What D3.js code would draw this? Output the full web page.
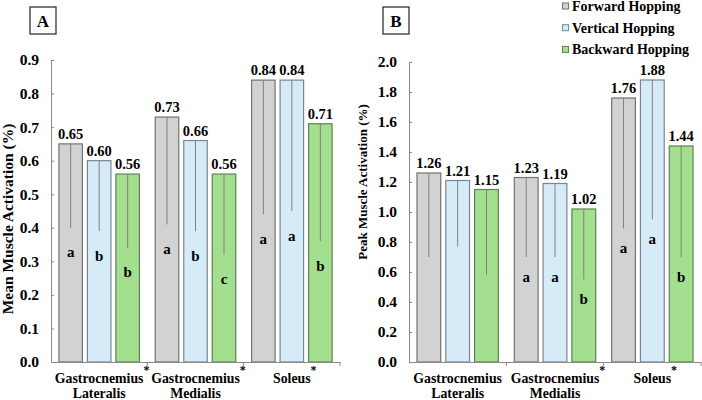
<!DOCTYPE html>
<html>
<head>
<meta charset="utf-8">
<script src="https://cdn.jsdelivr.net/npm/d3@7"></script>
<style>
  body { margin: 0; background: #fff; }
  svg text { font-family: "Liberation Serif", "Times New Roman", serif; font-weight: bold; fill: #000; }
</style>
</head>
<body>
<script>
var W = 702, H = 400;

// categories and series
var muscles = ["Gastrocnemius Lateralis", "Gastrocnemius Medialis", "Soleus"];
var conditions = ["Forward Hopping", "Vertical Hopping", "Backward Hopping"];
var fills = ["#d2d2d2", "#d6ebf8", "#a3df8f"];
var strokes = ["#727272", "#7a8692", "#5a8454"];

// panel A: mean activation
var meanForward = [0.65, 0.73, 0.84];
var meanVertical = [0.60, 0.66, 0.84];
var meanBackward = [0.56, 0.56, 0.71];
var meanSdForward = [0.25, 0.32, 0.40];
var meanSdVertical = [0.21, 0.27, 0.39];
var meanSdBackward = [0.22, 0.24, 0.35];
var meanLetters = [["a", "a", "a"], ["b", "b", "a"], ["b", "c", "b"]];
var meanStars = [true, true, true];
var meanTicks = [0, 0.1, 0.2, 0.3, 0.4, 0.5, 0.6, 0.7, 0.8, 0.9];

// panel B: peak activation
var peakForward = [1.26, 1.23, 1.76];
var peakVertical = [1.21, 1.19, 1.88];
var peakBackward = [1.15, 1.02, 1.44];
var peakSdForward = [0.56, 0.53, 0.87];
var peakSdVertical = [0.44, 0.49, 0.93];
var peakSdBackward = [0.57, 0.47, 0.74];
var peakLetters = [["", "a", "a"], ["", "a", "a"], ["", "b", "b"]];
var peakStars = [false, true, true];
var peakTicks = [0, 0.2, 0.4, 0.6, 0.8, 1.0, 1.2, 1.4, 1.6, 1.8, 2.0];

var svg = d3.select("body").append("svg")
  .attr("width", W)
  .attr("height", H);

function drawPanel(p) {
  var g = svg.append("g");
  var y = d3.scaleLinear().domain([0, p.max]).range([362, p.top]);
  var x0 = d3.scaleBand().domain(muscles).range([p.left, p.right]);
  var x1 = d3.scaleBand().domain(conditions).range([0, x0.bandwidth()])
    .paddingInner(0.14).paddingOuter(0.26);

  // bars
  conditions.forEach(function(c, si) {
    var vals = p.values[si];
    g.selectAll(".bar" + si).data(vals).enter().append("rect")
      .attr("x", function(d, i) { return x0(muscles[i]) + x1(c) + 0.5; })
      .attr("y", function(d) { return y(d); })
      .attr("width", x1.bandwidth() - 1)
      .attr("height", function(d) { return y(0) - y(d); })
      .attr("fill", fills[si])
      .attr("stroke", strokes[si])
      .attr("stroke-width", 1.2);

    // error line (lower side only)
    g.selectAll(".err" + si).data(vals).enter().append("line")
      .attr("x1", function(d, i) { return x0(muscles[i]) + x1(c) + x1.bandwidth() / 2; })
      .attr("x2", function(d, i) { return x0(muscles[i]) + x1(c) + x1.bandwidth() / 2; })
      .attr("y1", function(d) { return y(d); })
      .attr("y2", function(d, i) { return y(d - p.sd[si][i]); })
      .attr("stroke", "#808080")
      .attr("stroke-width", 1);

    // value labels
    g.selectAll(".val" + si).data(vals).enter().append("text")
      .attr("x", function(d, i) { return x0(muscles[i]) + x1(c) + x1.bandwidth() / 2; })
      .attr("y", function(d) { return y(d) - 5; })
      .attr("text-anchor", "middle")
      .attr("font-size", "14.5px")
      .text(function(d) { return d.toFixed(2); });

    // significance letters
    g.selectAll(".let" + si).data(vals).enter().append("text")
      .attr("x", function(d, i) { return x0(muscles[i]) + x1(c) + x1.bandwidth() / 2; })
      .attr("y", function(d, i) { return y(d - p.sd[si][i]) + p.letterGap; })
      .attr("dy", "0.3em")
      .attr("text-anchor", "middle")
      .attr("font-size", "15px")
      .text(function(d, i) { return p.letters[si][i]; });
  });

  // y axis
  var yAxis = d3.axisLeft(y).tickValues(p.ticks).tickFormat(d3.format(".1f"))
    .tickSizeInner(-3).tickSizeOuter(0).tickPadding(12);
  var ya = g.append("g").attr("transform", "translate(" + p.left + ",0)").call(yAxis);
  ya.select(".domain").attr("stroke", "#8a8a8a");
  ya.selectAll(".tick line").attr("stroke", "#8a8a8a");
  ya.selectAll("text").attr("font-size", "15.5px").attr("fill", "#000");

  // x axis
  var xAxis = d3.axisBottom(x0).tickSize(0).tickFormat("");
  var xa = g.append("g").attr("transform", "translate(0,362)").call(xAxis);
  xa.select(".domain").attr("stroke", "#8a8a8a");
  xa.selectAll(".tick").remove();
  g.selectAll(".xsep").data(muscles).enter().append("line")
    .attr("x1", function(d) { return x0(d) + x0.bandwidth(); })
    .attr("x2", function(d) { return x0(d) + x0.bandwidth(); })
    .attr("y1", 362).attr("y2", 366)
    .attr("stroke", "#8a8a8a");

  // category labels
  muscles.forEach(function(m, i) {
    var words = m.split(" ");
    var cx = x0(m) + x0.bandwidth() / 2;
    var t = g.append("text")
      .attr("x", cx)
      .attr("y", 382.5)
      .attr("text-anchor", "middle")
      .attr("font-size", "13.8px")
      .text(words[0]);
    if (words[1]) {
      g.append("text")
        .attr("x", cx)
        .attr("y", 397.5)
        .attr("text-anchor", "middle")
        .attr("font-size", "13.8px")
        .text(words[1]);
    }
    if (p.stars[i]) {
      var len = t.node().getComputedTextLength();
      g.append("text")
        .attr("x", cx + len / 2)
        .attr("y", 374)
        .attr("font-size", "12px")
        .text("*");
    }
  });

  // y title
  g.append("text")
    .attr("transform", "translate(" + p.titleX + "," + p.titleY + ") rotate(-90)")
    .attr("text-anchor", "middle")
    .attr("font-size", p.titleSize)
    .text(p.title);

  // panel letter box
  g.append("rect")
    .attr("x", p.box[0]).attr("y", p.box[1])
    .attr("width", 26).attr("height", 27)
    .attr("fill", "none")
    .attr("stroke", "#333")
    .attr("stroke-width", 1.3);
  g.append("text")
    .attr("x", p.box[0] + 13).attr("y", p.box[1] + 19.5)
    .attr("text-anchor", "middle")
    .attr("font-size", "17px")
    .text(p.label);
}

drawPanel({
  label: "A", box: [30, 7],
  left: 51, right: 340, top: 60, max: 0.9, ticks: meanTicks,
  values: [meanForward, meanVertical, meanBackward],
  sd: [meanSdForward, meanSdVertical, meanSdBackward],
  letters: meanLetters, stars: meanStars, letterGap: 25,
  title: "Mean Muscle Activation (%)", titleX: 13, titleY: 219, titleSize: "15.5px"
});

drawPanel({
  label: "B", box: [383, 7],
  left: 409, right: 701, top: 62, max: 2.0, ticks: peakTicks,
  values: [peakForward, peakVertical, peakBackward],
  sd: [peakSdForward, peakSdVertical, peakSdBackward],
  letters: peakLetters, stars: peakStars, letterGap: 20,
  title: "Peak Muscle Activation (%)", titleX: 367, titleY: 182, titleSize: "13px"
});

// legend
var legend = svg.append("g").attr("transform", "translate(562,0)");
conditions.forEach(function(c, i) {
  legend.append("rect")
    .attr("x", 0.5).attr("y", 3 + i * 21.7)
    .attr("width", 6).attr("height", 6)
    .attr("fill", fills[i])
    .attr("stroke", strokes[i]);
  legend.append("text")
    .attr("x", 10).attr("y", 11 + i * 21.7)
    .attr("font-size", "14px")
    .text(c);
});
</script>
</body>
</html>
